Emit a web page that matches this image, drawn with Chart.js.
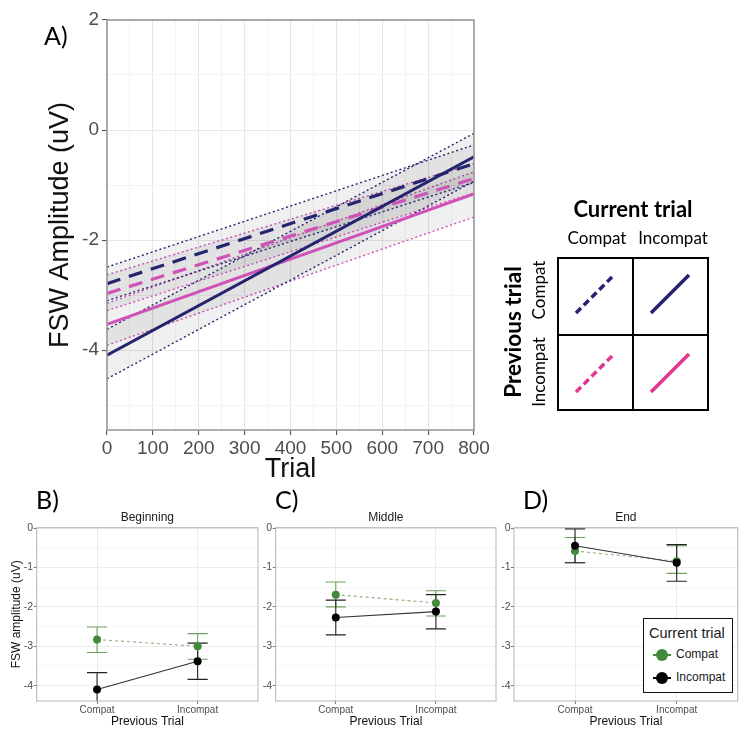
<!DOCTYPE html>
<html><head><meta charset="utf-8">
<script src="https://cdn.jsdelivr.net/npm/chart.js@4/dist/chart.umd.min.js"></script>
<style>
body{margin:0;background:#fff;width:748px;height:736px;position:relative;overflow:hidden;font-family:'Liberation Sans',Arial,sans-serif}
canvas{position:absolute}
.lbl{position:absolute;font-family:Lato,sans-serif;font-size:25px;line-height:1;color:#000}
#legD{position:absolute;left:643px;top:618px;width:88px;height:73px;border:1.3px solid #111;background:#fff;font-family:'Liberation Sans',Arial,sans-serif;color:#1a1a1a}
#legD .t{position:absolute;left:5px;top:6px;font-size:14.5px;white-space:nowrap}
#legD .e{position:absolute;left:8px;height:14px;width:80px;font-size:12px;white-space:nowrap}
#legD .mk{position:absolute;left:1px;top:0;width:18px;height:14px}
#legD .tx{position:absolute;left:24px;top:-1px}
</style></head>
<body>
<canvas id="cA" width="500" height="490" style="left:0;top:0"></canvas>
<div class="lbl" style="left:44px;top:23px">A)</div>
<svg style="position:absolute;left:490px;top:190px" width="258" height="230" xmlns="http://www.w3.org/2000/svg">
  <text x="143" y="27" text-anchor="middle" font-family="Lato" font-weight="bold" font-size="22" fill="#000">Current trial</text>
  <text x="107" y="54" text-anchor="middle" font-family="Lato" font-size="17" fill="#000">Compat</text>
  <text x="183" y="54" text-anchor="middle" font-family="Lato" font-size="17" fill="#000">Incompat</text>
  <text x="22" y="142" text-anchor="middle" dominant-baseline="central" transform="rotate(-90 22 142)" font-family="Lato" font-weight="bold" font-size="22.5" fill="#000">Previous trial</text>
  <text x="48" y="100" text-anchor="middle" dominant-baseline="central" transform="rotate(-90 48 100)" font-family="Lato" font-size="17" fill="#000">Compat</text>
  <text x="48" y="182" text-anchor="middle" dominant-baseline="central" transform="rotate(-90 48 182)" font-family="Lato" font-size="17" fill="#000">Incompat</text>
  <rect x="68" y="68" width="150" height="152" fill="none" stroke="#000" stroke-width="2"/>
  <line x1="143" y1="68" x2="143" y2="220" stroke="#000" stroke-width="2"/>
  <line x1="68" y1="145" x2="218" y2="145" stroke="#000" stroke-width="2"/>
  <line x1="86" y1="123" x2="124" y2="85" stroke="#23236e" stroke-width="3.5" stroke-dasharray="7,4"/>
  <line x1="161" y1="123" x2="199" y2="85" stroke="#23236e" stroke-width="3.5"/>
  <line x1="86" y1="202" x2="124" y2="164" stroke="#e0368f" stroke-width="3.5" stroke-dasharray="7,4"/>
  <line x1="161" y1="202" x2="199" y2="164" stroke="#e0368f" stroke-width="3.5"/>
</svg>
<canvas id="cB" width="262" height="236" style="left:0;top:500px"></canvas>
<canvas id="cC" width="244" height="236" style="left:256px;top:500px"></canvas>
<canvas id="cD" width="248" height="236" style="left:500px;top:500px"></canvas>
<div class="lbl" style="left:36px;top:487px">B)</div>
<div class="lbl" style="left:275px;top:487px">C)</div>
<div class="lbl" style="left:523px;top:487px">D)</div>
<div id="legD">
  <div class="t">Current trial</div>
  <div class="e" style="top:29px"><svg class="mk" width="18" height="14"><line x1="0" y1="7" x2="18" y2="7" stroke="#43893a" stroke-width="2"/><circle cx="9" cy="7" r="6" fill="#43893a"/></svg><span class="tx">Compat</span></div>
  <div class="e" style="top:52px"><svg class="mk" width="18" height="14"><line x1="0" y1="7" x2="18" y2="7" stroke="#000" stroke-width="2"/><circle cx="9" cy="7" r="6" fill="#000"/></svg><span class="tx">Incompat</span></div>
</div>
<script>
// ---------- Panel A data (fitted lines at trial 0 and 800) ----------
const trialRange = [0, 800];
const trialTicks = [0, 50, 100, 150, 200, 250, 300, 350, 400, 450, 500, 550, 600, 650, 700, 750, 800];
const ampTicksA = [-5, -4, -3, -2, -1, 0, 1, 2];
// previous Compat / current Compat (navy dashed)
const ccMean  = [-2.79, -0.61];
const ccUpper = [-2.49, -0.27];
const ccLower = [-3.10, -0.95];
// previous Compat / current Incompat (navy solid)
const ciMean  = [-4.09, -0.485];
const ciUpper = [-3.62, -0.06];
const ciLower = [-4.52, -0.93];
// previous Incompat / current Compat (pink dashed)
const icMean  = [-2.97, -0.88];
const icUpper = [-2.63, -0.61];
const icLower = [-3.28, -1.14];
// previous Incompat / current Incompat (pink solid)
const iiMean  = [-3.53, -1.16];
const iiUpper = [-3.15, -0.76];
const iiLower = [-3.91, -1.58];

// ---------- Panels B-D data ----------
const prevTrial = ['Compat', 'Incompat'];
const ampTicksB = [-4, -3.5, -3, -2.5, -2, -1.5, -1, -0.5, 0];
const begCompat     = [-2.83, -3.00];
const begCompatLo   = [-3.16, -3.33];
const begCompatHi   = [-2.51, -2.68];
const begIncompat   = [-4.10, -3.38];
const begIncompatLo = [-4.53, -3.84];
const begIncompatHi = [-3.67, -2.92];
const midCompat     = [-1.69, -1.90];
const midCompatLo   = [-2.00, -2.23];
const midCompatHi   = [-1.37, -1.59];
const midIncompat   = [-2.27, -2.12];
const midIncompatLo = [-2.71, -2.56];
const midIncompatHi = [-1.83, -1.69];
const endCompat     = [-0.58, -0.84];
const endCompatLo   = [-0.88, -1.15];
const endCompatHi   = [-0.24, -0.45];
const endIncompat   = [-0.45, -0.88];
const endIncompatLo = [-0.88, -1.35];
const endIncompatHi = [-0.02, -0.42];

const NAVY = '#25246f', PINK = '#cf52b9';
const GREEN = '#43893a', GREEN_EB = '#6f9f5f', GREEN_LN = '#93b184';

const panelBorder = {
  id: 'panelBorder',
  afterDatasetsDraw(chart, args, opts) {
    const {ctx, chartArea: a} = chart;
    ctx.save();
    ctx.strokeStyle = opts.color || '#999';
    ctx.lineWidth = opts.width || 1;
    ctx.strokeRect(a.left, a.top, a.right - a.left, a.bottom - a.top);
    ctx.restore();
  }
};
const panelTitle = {
  id: 'panelTitle',
  afterDraw(chart, args, opts) {
    if (!opts.text) return;
    const {ctx, chartArea: a} = chart;
    ctx.save();
    ctx.font = (opts.size || 12) + 'px "Liberation Sans", Arial, sans-serif';
    ctx.fillStyle = '#1a1a1a';
    ctx.textAlign = 'center';
    ctx.textBaseline = 'middle';
    ctx.fillText(opts.text, (a.left + a.right) / 2, opts.y);
    ctx.restore();
  }
};
Chart.register(panelBorder, panelTitle);

const pts = (xs, ys) => xs.map((x, i) => ({x, y: ys[i]}));
function ribbon(upper, lower, color) {
  return [
    {data: pts(trialRange, upper), borderColor: color, borderDash: [2, 2.6], borderWidth: 1.4, pointRadius: 0, fill: false},
    {data: pts(trialRange, lower), borderColor: color, borderDash: [2, 2.6], borderWidth: 1.4, pointRadius: 0, fill: '-1', backgroundColor: 'rgba(0,0,0,0.06)'}
  ];
}

new Chart(document.getElementById('cA'), {
  type: 'line',
  data: {
    datasets: [
      {label: 'Prev Compat, Cur Incompat', data: pts(trialRange, ciMean), borderColor: NAVY, borderWidth: 3, pointRadius: 0, fill: false},
      {label: 'Prev Compat, Cur Compat', data: pts(trialRange, ccMean), borderColor: NAVY, borderWidth: 3.2, borderDash: [14, 9], pointRadius: 0, fill: false},
      {label: 'Prev Incompat, Cur Compat', data: pts(trialRange, icMean), borderColor: PINK, borderWidth: 3.2, borderDash: [14, 9], pointRadius: 0, fill: false},
      {label: 'Prev Incompat, Cur Incompat', data: pts(trialRange, iiMean), borderColor: PINK, borderWidth: 3, pointRadius: 0, fill: false},
      ...ribbon(ccUpper, ccLower, NAVY),
      ...ribbon(ciUpper, ciLower, NAVY),
      ...ribbon(icUpper, icLower, PINK),
      ...ribbon(iiUpper, iiLower, PINK)
    ]
  },
  options: {
    responsive: false, animation: false,
    layout: {padding: {top: 20, right: 26, left: 0, bottom: 0}},
    plugins: {legend: {display: false}, tooltip: {enabled: false},
      panelBorder: {color: '#9a9a9a', width: 1.6}},
    scales: {
      x: {
        type: 'linear', min: 0, max: 800,
        afterBuildTicks: s => { s.ticks = trialTicks.map(v => ({value: v})); },
        afterFit: s => { s.height = 60; s.paddingLeft = 0; s.paddingRight = 0; },
        border: {display: false},
        grid: {
          color: c => (c.tick && c.tick.value % 100 === 0) ? '#e6e6e6' : '#f3f3f3',
          lineWidth: 1.1,
          tickLength: 5,
          tickColor: c => (c.tick && c.tick.value % 100 === 0) ? '#555' : 'rgba(0,0,0,0)'
        },
        ticks: {
          autoSkip: false, maxRotation: 0, padding: 2, color: '#4d4d4d',
          font: {family: '"Liberation Sans", Arial, sans-serif', size: 19},
          callback: v => (v % 100 === 0 ? String(v) : '')
        },
        title: {display: true, text: 'Trial', color: '#111', padding: {top: 0, bottom: 4},
          font: {family: '"Liberation Sans", Arial, sans-serif', size: 27}}
      },
      y: {
        type: 'linear', min: -5.45, max: 2,
        afterBuildTicks: s => { s.ticks = ampTicksA.map(v => ({value: v})); },
        afterFit: s => { s.width = 107; s.paddingTop = 0; s.paddingBottom = 0; },
        border: {display: false},
        grid: {
          color: c => (c.tick && c.tick.value % 2 === 0) ? '#e6e6e6' : '#f3f3f3',
          lineWidth: 1.1,
          tickLength: 5,
          tickColor: c => (c.tick && c.tick.value % 2 === 0) ? '#555' : 'rgba(0,0,0,0)'
        },
        ticks: {
          autoSkip: false, padding: 3, color: '#4d4d4d',
          font: {family: '"Liberation Sans", Arial, sans-serif', size: 19},
          callback: v => (v % 2 === 0 ? String(v) : '')
        },
        title: {display: true, text: 'FSW Amplitude (uV)', color: '#111', padding: {top: 44, bottom: 0},
          font: {family: '"Liberation Sans", Arial, sans-serif', size: 27}}
      }
    }
  }
});

function errorBars(means, lo, hi) {
  const out = [];
  means.forEach((m, i) => {
    const x = i + 1, w = 0.1;
    out.push({x: x - w, y: hi[i]}, {x: x + w, y: hi[i]}, {x: x, y: null},
             {x: x, y: hi[i]}, {x: x, y: lo[i]}, {x: x, y: null},
             {x: x - w, y: lo[i]}, {x: x + w, y: lo[i]}, {x: x, y: null});
  });
  return out;
}
const idx = ys => ys.map((y, i) => ({x: i + 1, y}));

function bottomPanel(id, title, comp, compLo, compHi, inc, incLo, incHi, yWidth, padRight, yTitle) {
  const font = s => ({family: '"Liberation Sans", Arial, sans-serif', size: s});
  new Chart(document.getElementById(id), {
    type: 'line',
    data: {
      datasets: [
        {label: 'Incompat', data: idx(inc), borderColor: '#333', borderWidth: 1.1, pointRadius: 4,
         pointBackgroundColor: '#000', pointBorderWidth: 0, fill: false},
        {label: 'Compat', data: idx(comp), borderColor: GREEN_LN, borderWidth: 1.1, borderDash: [3, 3], pointRadius: 4,
         pointBackgroundColor: GREEN, pointBorderWidth: 0, fill: false},
        {label: 'Incompat SE', data: errorBars(inc, incLo, incHi), borderColor: '#222', borderWidth: 1.1, pointRadius: 0, spanGaps: false, fill: false},
        {label: 'Compat SE', data: errorBars(comp, compLo, compHi), borderColor: GREEN_EB, borderWidth: 1.1, pointRadius: 0, spanGaps: false, fill: false}
      ]
    },
    options: {
      responsive: false, animation: false,
      layout: {padding: {top: 27.7, right: padRight, left: 0, bottom: 0}},
      plugins: {legend: {display: false}, tooltip: {enabled: false},
        panelBorder: {color: '#b5b5b5', width: 1},
        panelTitle: {text: title, y: 18, size: 12}},
      scales: {
        x: {
          type: 'linear', min: 0.4, max: 2.6,
          afterBuildTicks: s => { s.ticks = prevTrial.map((c, i) => ({value: i + 1})); },
          afterFit: s => { s.height = 35; s.paddingLeft = 0; s.paddingRight = 0; },
          border: {display: false},
          grid: {color: '#ebebeb', lineWidth: 1, tickLength: 3, tickColor: '#777'},
          ticks: {autoSkip: false, maxRotation: 0, padding: 0, color: '#4d4d4d', font: font(10),
            callback: v => prevTrial[v - 1] || ''},
          title: {display: true, text: 'Previous Trial', color: '#111', padding: {top: 0, bottom: 7.5}, font: font(12)}
        },
        y: {
          type: 'linear', min: -4.39, max: 0.01,
          afterBuildTicks: s => { s.ticks = ampTicksB.map(v => ({value: v})); },
          afterFit: s => { s.width = yWidth; s.paddingTop = 0; s.paddingBottom = 0; },
          border: {display: false},
          grid: {
            color: c => (c.tick && Number.isInteger(c.tick.value)) ? '#ebebeb' : '#f5f5f5',
            lineWidth: 1, tickLength: 3,
            tickColor: c => (c.tick && Number.isInteger(c.tick.value)) ? '#777' : 'rgba(0,0,0,0)'
          },
          ticks: {autoSkip: false, padding: 0.5, color: '#4d4d4d', font: font(10.5),
            callback: v => (Number.isInteger(v) ? String(v) : '')},
          title: {display: yTitle, text: 'FSW amplitude (uV)', color: '#111', padding: {top: 9, bottom: 0}, font: font(12)}
        }
      }
    }
  });
}

bottomPanel('cB', 'Beginning', begCompat, begCompatLo, begCompatHi, begIncompat, begIncompatLo, begIncompatHi, 36.7, 3, true);
bottomPanel('cC', 'Middle', midCompat, midCompatLo, midCompatHi, midIncompat, midIncompatLo, midIncompatHi, 19.7, 2.3, false);
bottomPanel('cD', 'End', endCompat, endCompatLo, endCompatHi, endIncompat, endIncompatLo, endIncompatHi, 14, 10.3, false);
</script>
</body></html>
